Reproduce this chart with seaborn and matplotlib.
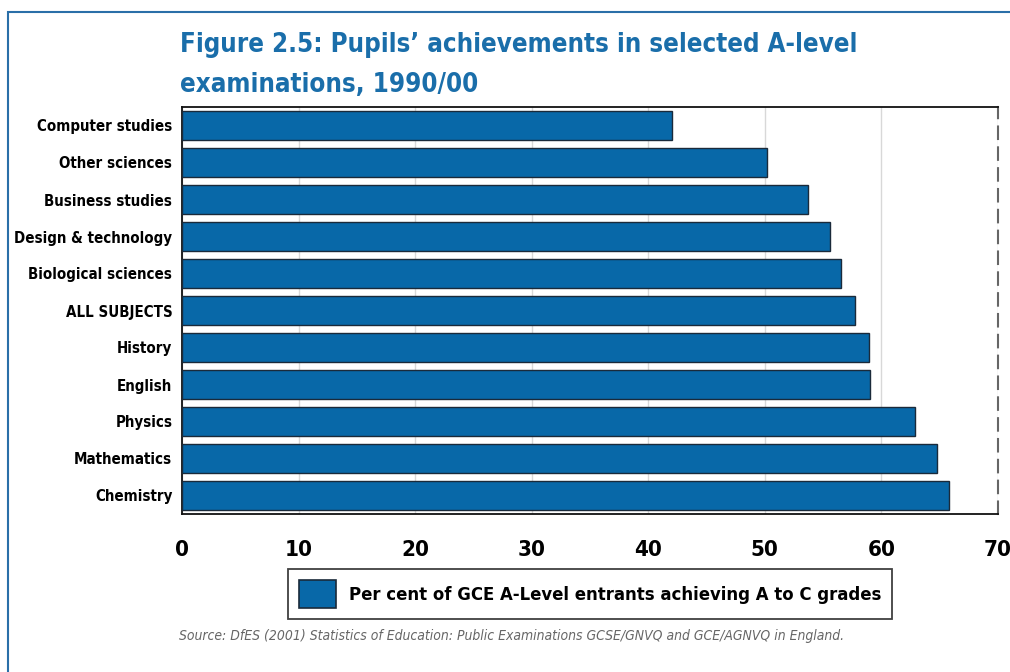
import pandas as pd
import matplotlib.pyplot as plt
import seaborn as sns
from matplotlib.patches import Rectangle, Patch
from matplotlib.ticker import FixedLocator

subjects = ["Computer studies", "Other sciences", "Business studies",
            "Design & technology", "Biological sciences", "ALL SUBJECTS",
            "History", "English", "Physics", "Mathematics", "Chemistry"]
pct_a_to_c = [42.0, 50.2, 53.7, 55.6, 56.5, 57.7, 58.9, 59.0, 62.9, 64.8, 65.8]
x_ticks = [0, 10, 20, 30, 40, 50, 60, 70]

BLUE = "#0868a8"
TITLE_BLUE = "#1a6eaa"

df = pd.DataFrame({"Subject": subjects, "Percent": pct_a_to_c})

sns.set_style("white")
plt.rcParams["font.family"] = ["DejaVu Sans"]
plt.rcParams["font.stretch"] = "condensed"

fig = plt.figure(figsize=(10.1, 6.72), dpi=100)
W, H = 1010, 672
ax = fig.add_axes([182 / W, 1 - 514 / H, (998 - 182) / W, (514 - 107) / H])

sns.barplot(data=df, y="Subject", x="Percent", orient="h", color=BLUE,
            width=0.76, edgecolor="#1a2a3a", linewidth=1.0, saturation=1,
            ax=ax, zorder=3)

ax.set_xlim(0, 70)
ax.set_ylim(len(subjects) - 0.5, -0.5)
ax.set_xticks(x_ticks)
ax.set_xticklabels([str(t) for t in x_ticks], fontsize=16, fontweight="bold")
ax.set_xlabel("")
ax.set_ylabel("")
ax.tick_params(axis="x", direction="out", length=9, width=1.2, pad=10, color="#111111",
               labelcolor="black")
ax.tick_params(axis="y", which="major", length=0, pad=7, labelsize=10.8, labelcolor="black")
for lbl in ax.get_yticklabels():
    lbl.set_fontweight("bold")
ax.yaxis.set_minor_locator(FixedLocator([i + 0.5 for i in range(len(subjects) - 1)]))
ax.tick_params(axis="y", which="minor", direction="out", length=6.5, width=1, color="#222222")

ax.grid(axis="x", color="#d8d8d8", linewidth=1, zorder=0)
ax.grid(axis="y", visible=False)
for side in ["top", "bottom", "left"]:
    ax.spines[side].set_color("#111111")
    ax.spines[side].set_linewidth(1.3)
ax.spines["right"].set_color("#666666")
ax.spines["right"].set_linestyle((0, (6, 4)))
ax.spines["right"].set_linewidth(1.5)

# outer frame
fig.patches.append(Rectangle((8 / W, -0.05), 1.1, 1 - 12 / H + 0.05, transform=fig.transFigure,
                             fill=False, edgecolor="#2a6fa8", linewidth=1.5))

fig.text(180 / W, 1 - 45 / H, "Figure 2.5: Pupils’ achievements in selected A-level",
         fontsize=18.5, fontweight="bold", color=TITLE_BLUE, va="center", ha="left")
fig.text(180 / W, 1 - 85 / H, "examinations, 1990/00",
         fontsize=18.5, fontweight="bold", color=TITLE_BLUE, va="center", ha="left")

handle = Patch(facecolor=BLUE, edgecolor="#1a2a3a", linewidth=1.2)
leg = fig.legend([handle], ["Per cent of GCE A-Level entrants achieving A to C grades"],
                 loc="center", bbox_to_anchor=(590 / W, 1 - 594 / H), frameon=True,
                 fancybox=False, edgecolor="#111111", handlelength=2.0, handleheight=2.0,
                 borderpad=0.6, handletextpad=0.7,
                 prop={"size": 13.2, "weight": "bold"})
leg.get_frame().set_linewidth(1.3)
for t in leg.get_texts():
    t.set_color("black")

fig.text(512 / W, 1 - 636 / H,
         "Source: DfES (2001) Statistics of Education: Public Examinations GCSE/GNVQ and GCE/AGNVQ in England.",
         fontsize=10, style="italic", color="#666666", ha="center", va="center")

plt.savefig("out.png", dpi=100)
